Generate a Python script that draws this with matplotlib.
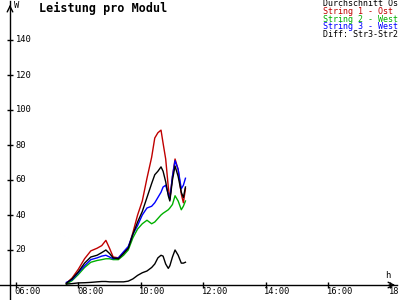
import numpy as np
import matplotlib
matplotlib.use("Agg")
import matplotlib.pyplot as plt
from matplotlib.lines import Line2D

# sample times (HH:MM) and power per module in W
times = ["07:37", "07:48", "08:00", "08:12", "08:24", "08:36", "08:45", "08:53",
         "09:00", "09:07", "09:17", "09:27", "09:36", "09:45", "09:54", "10:03",
         "10:12", "10:21", "10:27", "10:33", "10:39", "10:43", "10:48", "10:53",
         "10:56", "11:01", "11:06", "11:12", "11:18", "11:22", "11:26"]

avg = [1, 3.5, 7.5, 12.5, 16, 17, 18.5, 20, 18, 15.5, 15, 18, 21, 29, 36, 42,
       50, 58, 63, 65, 67.5, 65, 59, 51, 48, 60, 68, 62, 53, 50, 56]
str1 = [1, 4, 9, 15, 19.5, 21, 22.5, 25.5, 21, 16, 15.5, 18.5, 21, 30, 40, 48,
        61, 73, 84, 87, 88.5, 81, 72, 56, 49, 62, 72, 66, 52, 47, 55]
str2 = [0.5, 2.5, 6, 10, 13, 14, 14.5, 15, 15, 14.5, 14.5, 17, 20, 27, 32, 35,
        37, 35, 36, 38, 40, 41, 42, 43, 44, 46, 51, 48, 43, 45, 48]
str3 = [1.5, 3, 7, 11, 14.5, 15.5, 16.5, 17, 16, 15, 15.5, 19, 22, 29, 34, 40,
        44, 45, 47, 50, 53, 56, 57, 52, 49, 62, 71, 66, 55, 57, 61]
diff = [0.5, 0.8, 1.2, 1.3, 1.5, 1.8, 2, 2, 1.8, 1.8, 1.8, 1.8, 2.2, 3.5, 5.5, 7,
        8, 10, 12, 15.5, 17, 16.5, 12, 9.5, 11, 16, 20, 17, 12.5, 12.5, 13]

yticks = [20, 40, 60, 80, 100, 120, 140]
xticks = ["06:00", "08:00", "10:00", "12:00", "14:00", "16:00", "18:"]

legend = [("Durchschnitt Os", "black"),
          ("String 1 - Ost", "#c00000"),
          ("String 2 - West", "#00b000"),
          ("String 3 - West", "#0000ff"),
          ("Diff: Str3-Str2", "black")]


def to_h(s):
    hh, mm = (s + "00").split(":")[:2]
    return int(hh) + int(mm[:2]) / 60


t = np.array([to_h(s) for s in times])

W, H = 400, 300
fig = plt.figure(figsize=(4, 3), dpi=100)
ax = fig.add_axes([10 / W, 15 / H, 388 / W, 283 / H])
ax.set_xlim(5.81, 5.81 + 388 / 31.2)
ax.set_ylim(0, 283 / 1.75)

font = "DejaVu Sans Mono"

ax.plot(t, str1, color="#c00000", lw=1)
ax.plot(t, str2, color="#00b000", lw=1)
ax.plot(t, str3, color="#0000ff", lw=1)
ax.plot(t, avg, color="black", lw=1)
ax.plot(t, diff, color="black", lw=1)

for s in ["top", "right", "left", "bottom"]:
    ax.spines[s].set_visible(False)

# axis lines crossing each other, as in the original
fig.add_artist(Line2D([0, 397 / W], [15 / H, 15 / H], color="black", lw=1))
fig.add_artist(Line2D([10 / W, 10 / W], [0, 1 - 1 / H], color="black", lw=1))

ax.set_yticks(yticks)
ax.set_yticklabels([])
ax.set_xticks([to_h(s) for s in xticks])
ax.set_xticklabels([])
ax.tick_params(axis="both", direction="inout", length=5, width=1, color="black")

for v in yticks:
    ax.annotate(str(v), (0, v), xycoords=("axes fraction", "data"),
                xytext=(4, 0), textcoords="offset points", ha="left",
                va="center", fontsize=6.3, family=font)
for s in xticks:
    ax.annotate(s, (to_h(s), 0), xycoords=("data", "axes fraction"),
                xytext=(-1, -5), textcoords="offset points", ha="left",
                va="center", fontsize=6.3, family=font)

# axis arrows
ax.annotate("", xy=(0, 1.0), xytext=(0, 0.97), xycoords="axes fraction",
            arrowprops=dict(arrowstyle="->", lw=1, color="black"))
ax.annotate("", xy=(1.0, 0), xytext=(0.97, 0), xycoords="axes fraction",
            arrowprops=dict(arrowstyle="->", lw=1, color="black"))

fig.text(14 / W, 1 - 5 / H, "W", fontsize=6.3, family=font, va="center", ha="left")
fig.text(385 / W, 1 - 275 / H, "h", fontsize=6.3, family=font, va="center", ha="left")
fig.text(39 / W, 1 - 8 / H, "Leistung pro Modul", fontsize=8.5, family=font,
         weight="bold", va="center", ha="left")

for i, (txt, col) in enumerate(legend):
    fig.text(323 / W, 1 - (4 + 7.6 * i) / H, txt, fontsize=6, family=font,
             color=col, va="center", ha="left")

fig.savefig("out.png", dpi=100)
